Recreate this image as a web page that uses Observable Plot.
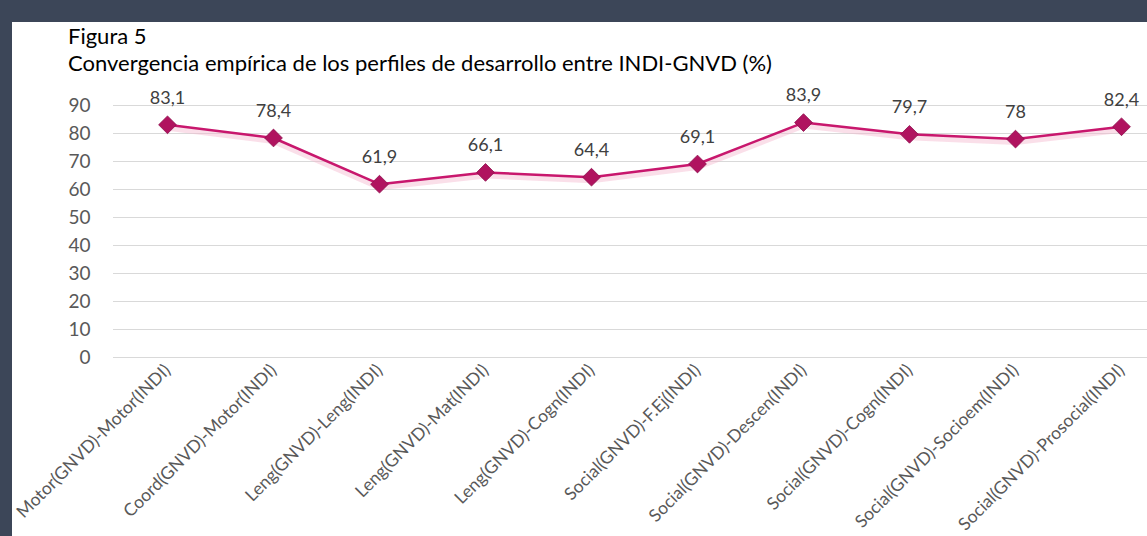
<!DOCTYPE html>
<html>
<head>
<meta charset="utf-8">
<script src="https://cdn.jsdelivr.net/npm/d3@7"></script>
<script src="https://cdn.jsdelivr.net/npm/@observablehq/plot@0.6"></script>
<style>
  html, body { margin: 0; padding: 0; background: #3c4658; width: 1147px; height: 536px; overflow: hidden; }
  #panel { position: absolute; left: 12px; top: 22px; width: 1135px; height: 514px; background: #fff; overflow: hidden; font-family: Lato, "Open Sans", sans-serif; }
  #title { position: absolute; left: 56px; top: 0px; font-size: 22px; line-height: 27px; color: #000; }
  #chart { position: absolute; left: 0; top: 58px; }
</style>
</head>
<body>
<div id="panel">
  <div id="title">Figura 5<br>Convergencia empírica de los perfiles de desarrollo entre INDI-GNVD (%)</div>
  <div id="chart"></div>
</div>
<script>
const categories = [
  "Motor(GNVD)-Motor(INDI)",
  "Coord(GNVD)-Motor(INDI)",
  "Leng(GNVD)-Leng(INDI)",
  "Leng(GNVD)-Mat(INDI)",
  "Leng(GNVD)-Cogn(INDI)",
  "Social(GNVD)-F.Ej(INDI)",
  "Social(GNVD)-Descen(INDI)",
  "Social(GNVD)-Cogn(INDI)",
  "Social(GNVD)-Socioem(INDI)",
  "Social(GNVD)-Prosocial(INDI)"
];
const values = [83.1, 78.4, 61.9, 66.1, 64.4, 69.1, 83.9, 79.7, 78, 82.4];
const yTicks = [0, 10, 20, 30, 40, 50, 60, 70, 80, 90];

const data = categories.map((c, i) => ({cat: c, v: values[i], label: String(values[i]).replace(".", ",")}));

const chart = Plot.plot({
  width: 1135,
  height: 456,
  marginTop: 25,
  marginBottom: 179,
  marginLeft: 101,
  marginRight: 0,
  style: {fontFamily: "Lato, 'Open Sans', sans-serif", background: "transparent"},
  x: {type: "point", domain: categories, range: [154, 1110], padding: 0},
  y: {domain: [0, 90]},
  marks: [
    Plot.ruleY(yTicks, {stroke: "#d9d9d9", strokeWidth: 1}),
    Plot.axisY({ticks: yTicks, tickSize: 0, tickPadding: 23, fontSize: 19, color: "#595959", label: null}),
    Plot.axisX({tickRotate: -45, tickSize: 0, tickPadding: 10, fontSize: 17.5, color: "#595959", label: null}),
    Plot.lineY(data, {x: "cat", y: "v", stroke: "#f4b8cf", strokeWidth: 6, strokeOpacity: 0.45, dy: 3}),
    Plot.lineY(data, {x: "cat", y: "v", stroke: "#c8176d", strokeWidth: 2.5}),
    Plot.dot(data, {x: "cat", y: "v", symbol: "diamond2", r: 8, fill: "#b0135f", stroke: "#8e0e4c", strokeWidth: 0.8}),
    Plot.text(data, {x: "cat", y: "v", text: "label", dy: -27, fontSize: 18, fill: "#404040"})
  ]
});
document.getElementById("chart").appendChild(chart);
</script>
</body>
</html>
